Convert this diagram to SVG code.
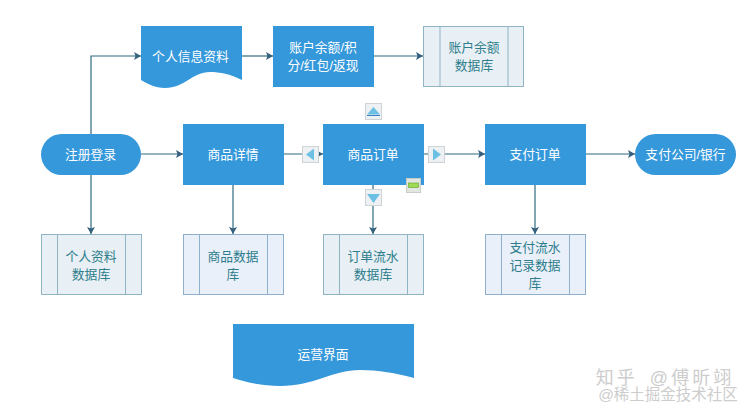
<svg xmlns="http://www.w3.org/2000/svg" width="753" height="414" viewBox="0 0 753 414">
<style>
text{font-family:"Liberation Sans","Noto Sans CJK SC",sans-serif;font-size:12.800px;text-anchor:middle}
.b{fill:#3498db}
.w{fill:#fff}
.d{fill:#2e7d8c}
.s{stroke:#8fb4c4;stroke-width:1;fill:#e8f0f5}
.s2{stroke:#8fb0cc;stroke-width:1;fill:#e9f0fa}
.c{fill:none;stroke:#2f6b80;stroke-width:1.2}
.h{fill:#34607e}
.btn{fill:#eef1f3;stroke:#cfd3d6;stroke-width:1}
.t{fill:#6cc0e4}
.wm{fill:#cdcdcd}
</style>
<defs>
<marker id="a" markerWidth="9" markerHeight="8" refX="7" refY="4" orient="auto" markerUnits="userSpaceOnUse"><path d="M0 0L7 4L0 8L1.500 4Z" class="h"/></marker>
</defs>
<rect width="753" height="414" fill="#fff"/>
<g id="connectors">
<path class="c" marker-end="url(#a)" d="M91 135V56H141"/>
<path class="c" marker-end="url(#a)" d="M242 56H273"/>
<path class="c" marker-end="url(#a)" d="M374 56H423"/>
<path class="c" marker-end="url(#a)" d="M141 154H183"/>
<path class="c" marker-end="url(#a)" d="M284 154H323"/>
<path class="c" marker-end="url(#a)" d="M424 154H485"/>
<path class="c" marker-end="url(#a)" d="M586 154H635"/>
<path class="c" marker-end="url(#a)" d="M91 175V234"/>
<path class="c" marker-end="url(#a)" d="M233 185V234"/>
<path class="c" marker-end="url(#a)" d="M373 185V234"/>
<path class="c" marker-end="url(#a)" d="M535 185V234"/>
</g>
<g id="n-register"><rect class="b" x="41" y="134" width="100" height="41" rx="20.500"/><text class="w" x="90.500" y="159">注册登录</text></g>
<g id="n-profile"><path class="b" d="M141 26H242V80C230 74 220 72 210 72C192 72 185 88 165 88C155 88 148 84 141 80Z"/><text class="w" x="190.500" y="61">个人信息资料</text></g>
<g id="n-balance"><rect class="b" x="273" y="26" width="101" height="61"/><text class="w" x="323" y="52">账户余额/积</text><text class="w" x="323" y="70">分/红包/返现</text></g>
<g id="n-balancedb"><rect class="s" x="423.500" y="26.500" width="100" height="60"/><path class="s" d="M440 26.500V86.500M508 26.500V86.500"/><text class="d" x="474" y="52">账户余额</text><text class="d" x="474" y="70">数据库</text></g>
<g id="n-product"><rect class="b" x="183" y="124" width="101" height="61"/><text class="w" x="233" y="159">商品详情</text></g>
<g id="n-order"><rect class="b" x="323" y="124" width="101" height="61"/><text class="w" x="373" y="159">商品订单</text></g>
<g id="n-pay"><rect class="b" x="485" y="124" width="101" height="61"/><text class="w" x="535" y="159">支付订单</text></g>
<g id="n-bank"><rect class="b" x="635" y="134" width="101" height="41" rx="20.500"/><text class="w" x="685.500" y="159">支付公司/银行</text></g>
<g id="n-userdb"><rect class="s" x="41.500" y="234.500" width="100" height="60"/><path class="s" d="M57.500 234.500V294.500M125.500 234.500V294.500"/><text class="d" x="91" y="261">个人资料</text><text class="d" x="91" y="279">数据库</text></g>
<g id="n-productdb"><rect class="s2" x="183.500" y="234.500" width="100" height="60"/><path class="s2" d="M199.500 234.500V294.500M267.500 234.500V294.500"/><text class="d" x="233" y="261">商品数据</text><text class="d" x="233" y="279">库</text></g>
<g id="n-orderdb"><rect class="s" x="323.500" y="234.500" width="100" height="60"/><path class="s" d="M339.500 234.500V294.500M407.500 234.500V294.500"/><text class="d" x="373" y="261">订单流水</text><text class="d" x="373" y="279">数据库</text></g>
<g id="n-paydb"><rect class="s2" x="485.500" y="234.500" width="100" height="60"/><path class="s2" d="M501.500 234.500V294.500M569.500 234.500V294.500"/><text class="d" x="535" y="252">支付流水</text><text class="d" x="535" y="270">记录数据</text><text class="d" x="535" y="288">库</text></g>
<g id="n-ops"><path class="b" d="M233 324H414V378C396 373 378 370 360 370C332 370 315 386 280 386C264 386 248 383 233 378Z"/><text class="w" x="323" y="359">运营界面</text></g>
<g id="buttons">
<rect class="btn" x="365.500" y="103.500" width="16" height="16"/><path class="t" d="M373.500 107L380 114.500H367Z"/><path d="M367 115.500H380" stroke="#3a80c0" stroke-width="1"/>
<rect class="btn" x="302.500" y="146.500" width="16" height="16"/><path class="t" d="M306 154.500L314 148.500V160.500Z"/>
<rect class="btn" x="428.500" y="146.500" width="16" height="16"/><path class="t" d="M441 154.500L433 148.500V160.500Z"/>
<rect class="btn" x="365.500" y="189.500" width="16" height="16"/><path class="t" d="M373.500 203L367 194H380Z"/>
<rect x="406.500" y="178.500" width="14" height="14" fill="#e2e6e0" stroke="#c8cdc8"/><rect x="408.500" y="183" width="10" height="4.500" fill="#9edb55" stroke="#70a838" stroke-width=".7"/>
</g>
<text class="wm" x="665" y="384" style="font-size:18px" letter-spacing="3" word-spacing="4">知乎 @傅昕翊</text>
<text class="wm" x="668" y="399.500" style="font-size:15.500px">@稀土掘金技术社区</text>
</svg>
